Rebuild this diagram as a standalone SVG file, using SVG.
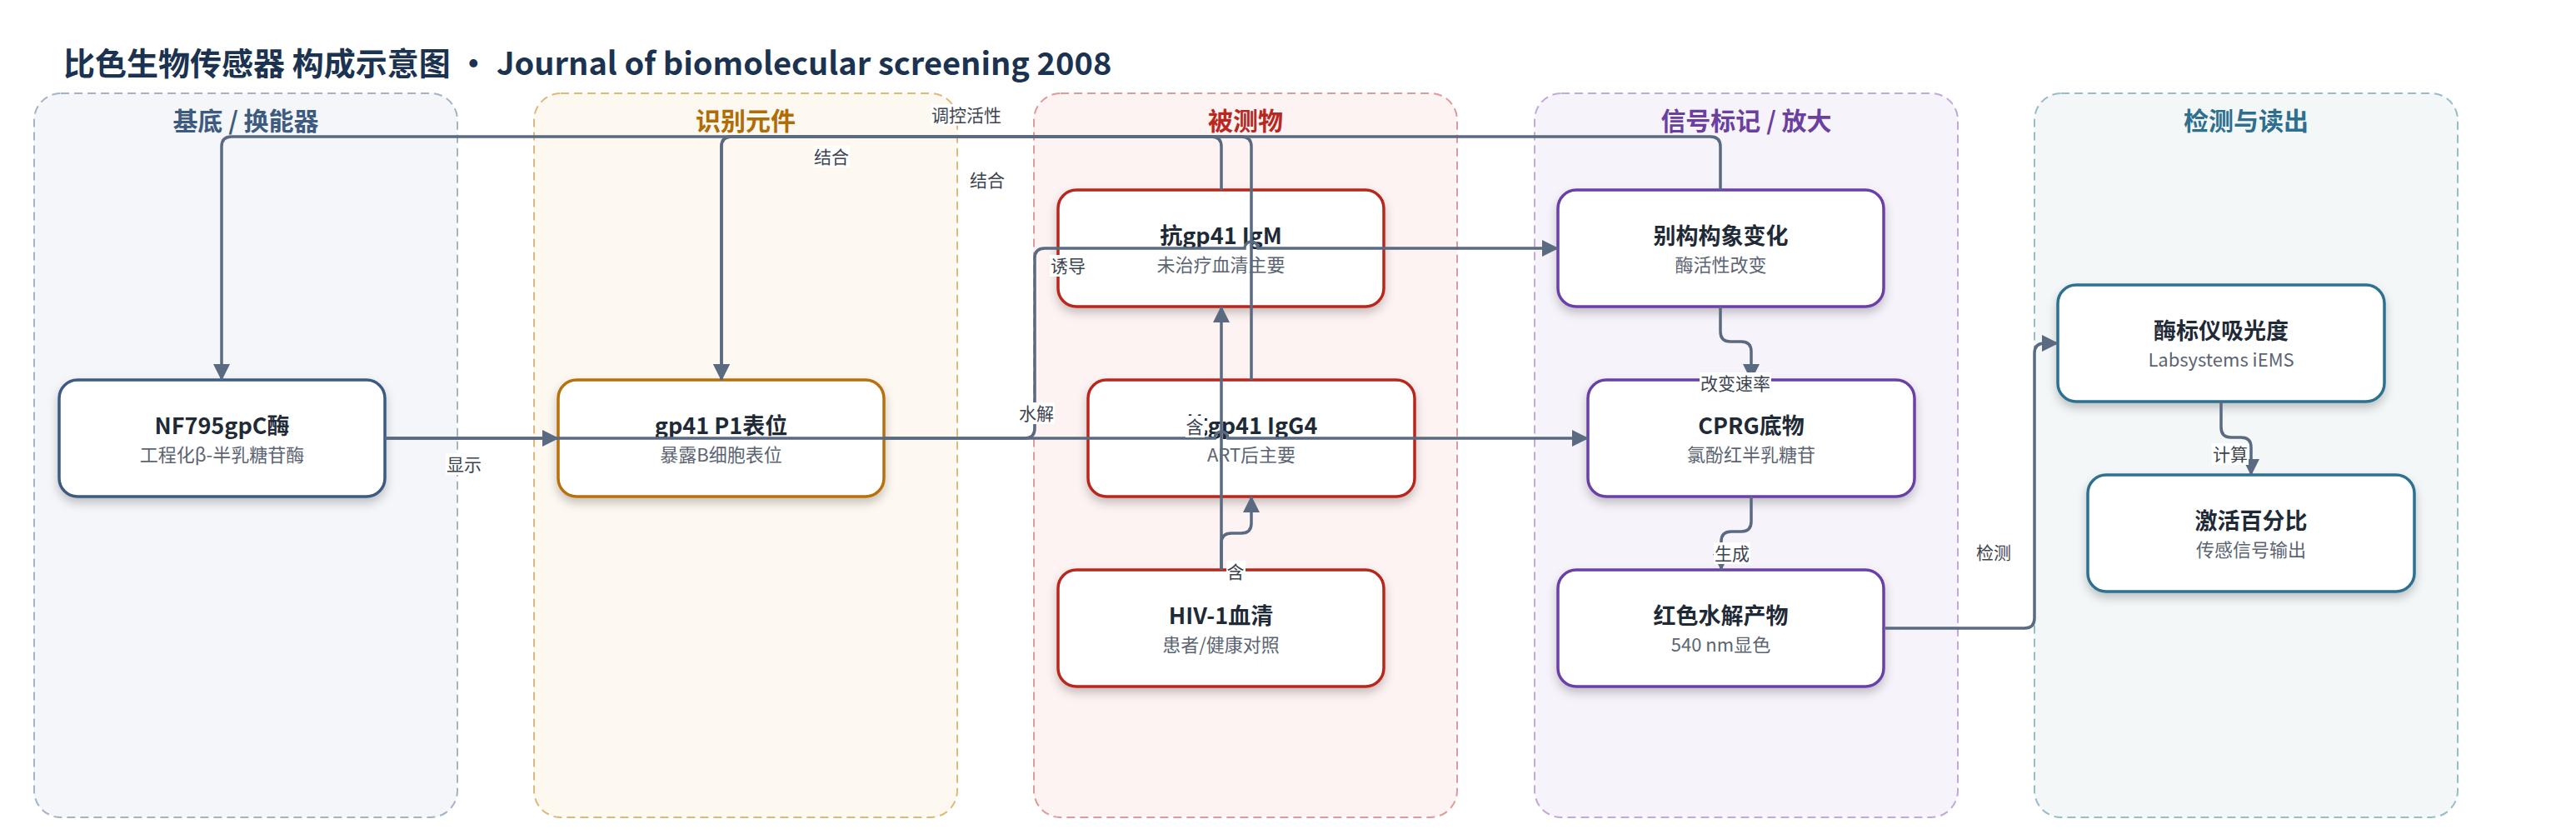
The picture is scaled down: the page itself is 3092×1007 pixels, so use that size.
<svg xmlns="http://www.w3.org/2000/svg" width="3092" height="1007" viewBox="0 0 3092 1007">
<defs>
<style>
text{font-family:"Noto Sans CJK SC","Noto Sans",sans-serif;}
.title{font-size:38px;font-weight:700;fill:#1b3350;}
.lane{stroke-width:2;stroke-dasharray:10 6;}
.lt{font-size:30px;font-weight:700;text-anchor:middle;}
.node{fill:#fff;stroke-width:3.5;filter:url(#sh);}
.nt{font-size:27px;font-weight:700;fill:#1f2a37;text-anchor:middle;}
.ns{font-size:22px;fill:#5b6472;text-anchor:middle;}
.ca{fill:none;stroke:#5a6a80;stroke-width:3.5;marker-end:url(#ah);}
.lb{font-size:21px;fill:#3d4450;text-anchor:middle;}
.lbg{fill:#fff;}
</style>
<marker id="ah" markerUnits="userSpaceOnUse" markerWidth="20" markerHeight="20" refX="19" refY="10" orient="auto">
<path d="M0,0 L20,10 L0,20 z" fill="#5a6a80"/>
</marker>
<filter id="sh" x="-10%" y="-10%" width="120%" height="140%">
<feDropShadow dx="0" dy="6" stdDeviation="6" flood-color="#000" flood-opacity="0.22"/>
</filter>
</defs>
<rect width="3092" height="1007" fill="#fff"/>
<text class="title" x="76" y="90">比色生物传感器 构成示意图 · Journal of biomolecular screening 2008</text>

<g id="lanes">
<g id="lane-substrate"><rect class="lane" x="41" y="112" width="508" height="869" rx="32" fill="#f4f6fa" stroke="#a3b3c8"/><text class="lt" x="295" y="156" fill="#3d5a80">基底 / 换能器</text></g>
<g id="lane-recognition"><rect class="lane" x="641" y="112" width="508" height="869" rx="32" fill="#fdf8f0" stroke="#e0b87a"/><text class="lt" x="895" y="156" fill="#b06c06">识别元件</text></g>
<g id="lane-analyte"><rect class="lane" x="1241" y="112" width="508" height="869" rx="32" fill="#fdf3f2" stroke="#e09a98"/><text class="lt" x="1495" y="156" fill="#b8281f">被测物</text></g>
<g id="lane-signal"><rect class="lane" x="1842" y="112" width="508" height="869" rx="32" fill="#f6f3fa" stroke="#c3a8da"/><text class="lt" x="2096" y="156" fill="#6a3fa0">信号标记 / 放大</text></g>
<g id="lane-readout"><rect class="lane" x="2442" y="112" width="508" height="869" rx="32" fill="#f3f7f8" stroke="#98bccb"/><text class="lt" x="2696" y="156" fill="#2e6f8e">检测与读出</text></g>
</g>

<g id="n-enzyme"><rect class="node" x="71" y="456" width="391" height="140" rx="22" stroke="#3d5a80"/><text class="nt" x="266.5" y="521">NF795gpC酶</text><text class="ns" x="266.5" y="554">工程化β-半乳糖苷酶</text></g>
<g id="n-epitope"><rect class="node" x="670" y="456" width="391" height="140" rx="22" stroke="#b8700a"/><text class="nt" x="865.5" y="521">gp41 P1表位</text><text class="ns" x="865.5" y="554">暴露B细胞表位</text></g>
<g id="n-igm"><rect class="node" x="1270" y="228" width="391" height="140" rx="22" stroke="#b8281f"/><text class="nt" x="1465.5" y="293">抗gp41 IgM</text><text class="ns" x="1465.5" y="326">未治疗血清主要</text></g>
<g id="n-igg4"><rect class="node" x="1306" y="456" width="392" height="140" rx="22" stroke="#b8281f"/><text class="nt" x="1502" y="521">抗gp41 IgG4</text><text class="ns" x="1502" y="554">ART后主要</text></g>
<g id="n-serum"><rect class="node" x="1270" y="684" width="391" height="140" rx="22" stroke="#b8281f"/><text class="nt" x="1465.5" y="749">HIV-1血清</text><text class="ns" x="1465.5" y="782">患者/健康对照</text></g>
<g id="n-allo"><rect class="node" x="1870" y="228" width="391" height="140" rx="22" stroke="#6b40a8"/><text class="nt" x="2065.5" y="293">别构构象变化</text><text class="ns" x="2065.5" y="326">酶活性改变</text></g>
<g id="n-cprg"><rect class="node" x="1906" y="456" width="392" height="140" rx="22" stroke="#6b40a8"/><text class="nt" x="2102" y="521">CPRG底物</text><text class="ns" x="2102" y="554">氯酚红半乳糖苷</text></g>
<g id="n-red"><rect class="node" x="1870" y="684" width="391" height="140" rx="22" stroke="#6b40a8"/><text class="nt" x="2065.5" y="749">红色水解产物</text><text class="ns" x="2065.5" y="782">540 nm显色</text></g>
<g id="n-reader"><rect class="node" x="2470" y="342" width="392" height="140" rx="22" stroke="#2e7090"/><text class="nt" x="2666" y="407">酶标仪吸光度</text><text class="ns" x="2666" y="440">Labsystems iEMS</text></g>
<g id="n-percent"><rect class="node" x="2506" y="570" width="392" height="140" rx="22" stroke="#2e7090"/><text class="nt" x="2702" y="635">激活百分比</text><text class="ns" x="2702" y="668">传感信号输出</text></g>

<g id="connectors">
<path class="ca" d="M462,526 H670"/>
<path class="ca" d="M462,526 H1458 A8,8 0 0 1 1474,526 H1906"/>
<path class="ca" d="M1061,526 H1230 Q1242,526 1242,514 V310 Q1242,298 1254,298 H1494 A8,8 0 0 1 1510,298 H1870"/>
<path class="ca" d="M2065,228 V176 Q2065,164 2053,164 H278 Q266,164 266,176 V456"/>
<path class="ca" d="M1466,228 V176 Q1466,164 1454,164 H878 Q866,164 866,176 V456"/>
<path class="ca" d="M1502,456 V176 Q1502,164 1490,164 H878 Q866,164 866,176 V456"/>
<path class="ca" d="M1466,684 V368"/>
<path class="ca" d="M1466,684 V652 Q1466,640 1478,640 H1490 Q1502,640 1502,628 V596"/>
<path class="ca" d="M2065,368 V398 Q2065,410 2077,410 H2090 Q2102,410 2102,422 V456"/>
<path class="ca" d="M2102,596 V626 Q2102,638 2090,638 H2078 Q2066,638 2066,650 V684"/>
<path class="ca" d="M2263,754 H2430 Q2442,754 2442,742 V424 Q2442,412 2454,412 H2470"/>
<path class="ca" d="M2666,482 V513 Q2666,525 2678,525 H2690 Q2702,525 2702,537 V570"/>
<g id="labels">
<rect class="lbg" x="535" y="544" width="44" height="26"/><text class="lb" x="557" y="565">显示</text>
<rect class="lbg" x="1222" y="483" width="44" height="26"/><text class="lb" x="1244" y="504">水解</text>
<rect class="lbg" x="1260" y="306" width="44" height="26"/><text class="lb" x="1282" y="327">诱导</text>
<rect class="lbg" x="1117" y="125" width="86" height="26"/><text class="lb" x="1160" y="146">调控活性</text>
<rect class="lbg" x="976" y="175" width="44" height="26"/><text class="lb" x="998" y="196">结合</text>
<rect class="lbg" x="1163" y="203" width="44" height="26"/><text class="lb" x="1185" y="224">结合</text>
<rect class="lbg" x="1423" y="499" width="23" height="26"/><text class="lb" x="1434" y="520">含</text>
<rect class="lbg" x="1472" y="673" width="23" height="26"/><text class="lb" x="1483" y="694">含</text>
<rect class="lbg" x="2040" y="447" width="86" height="26"/><text class="lb" x="2083" y="468">改变速率</text>
<rect class="lbg" x="2057" y="651" width="44" height="26"/><text class="lb" x="2079" y="672">生成</text>
<rect class="lbg" x="2371" y="650" width="44" height="26"/><text class="lb" x="2393" y="671">检测</text>
<rect class="lbg" x="2655" y="532" width="44" height="26"/><text class="lb" x="2677" y="553">计算</text>
</g>
</g>
</svg>
